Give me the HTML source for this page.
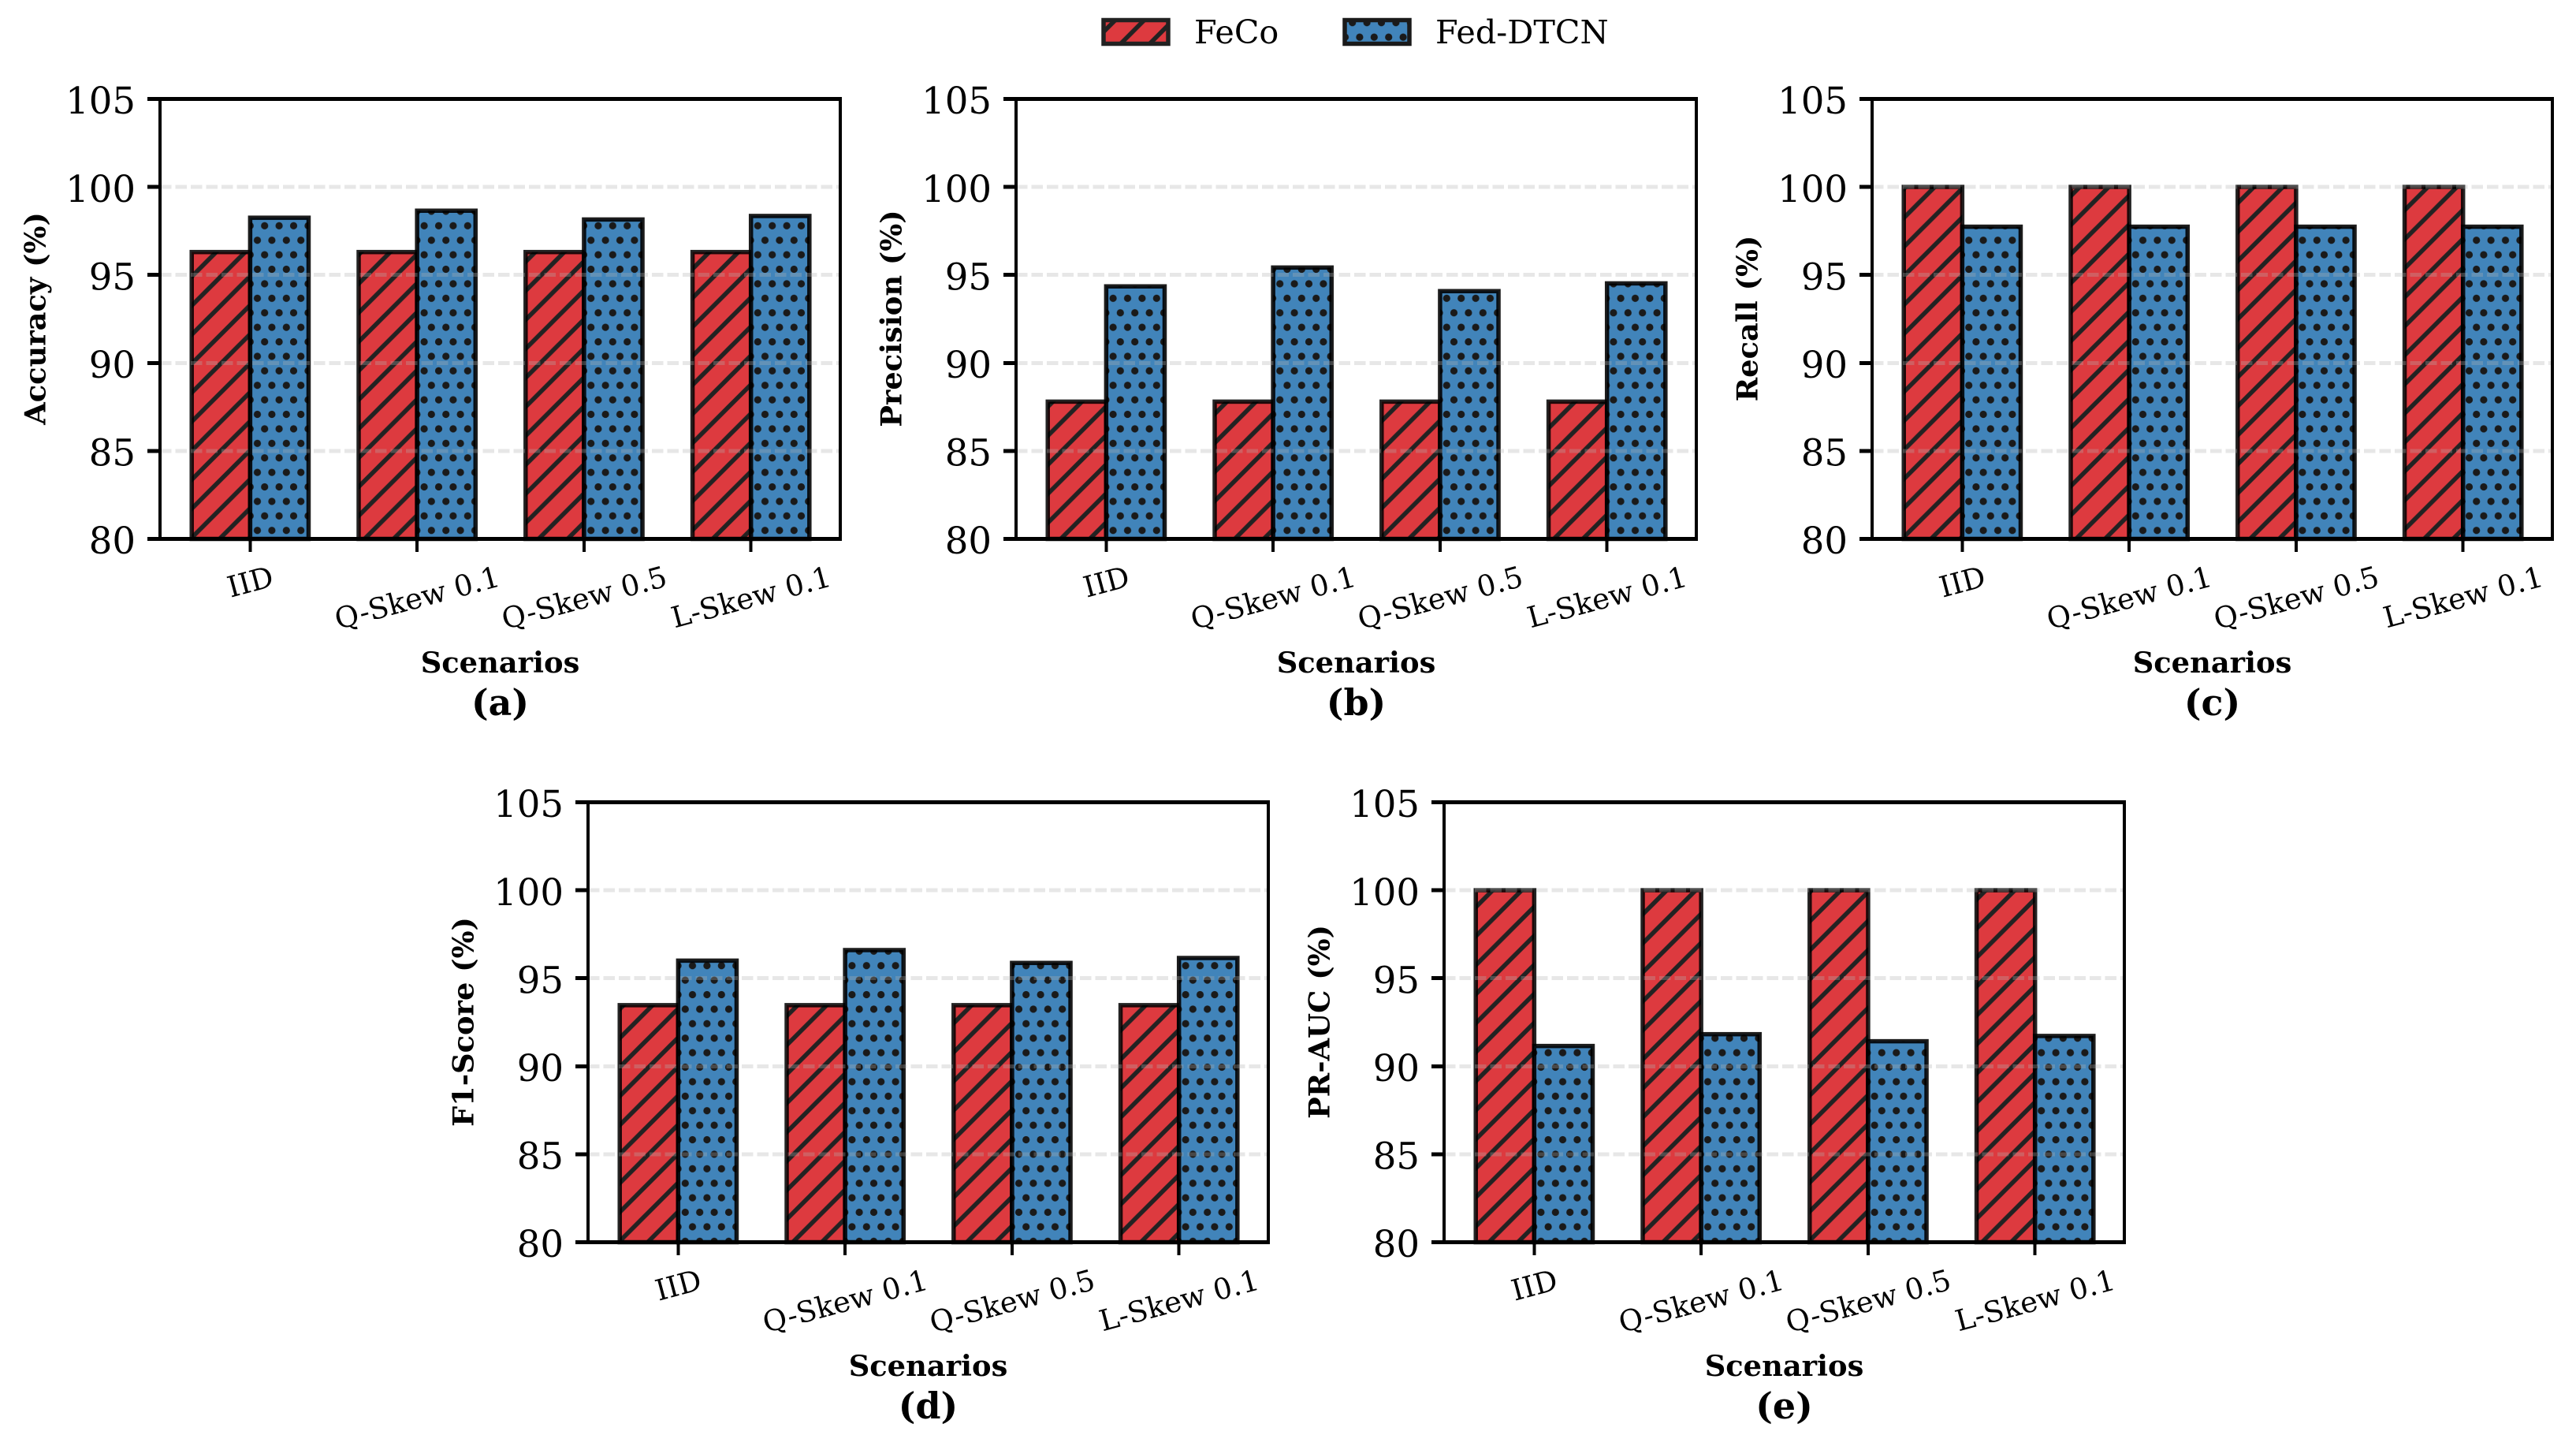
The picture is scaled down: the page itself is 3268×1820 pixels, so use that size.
<!DOCTYPE html>
<html lang="en">
<head>
<meta charset="utf-8">
<title>FeCo vs Fed-DTCN metrics</title>
<style>
html,body{margin:0;padding:0;background:#fff;}
svg{display:block;}
text{font-family:"DejaVu Serif","Liberation Serif",serif;fill:#000;}
</style>
</head>
<body>
<svg id="figure" xmlns="http://www.w3.org/2000/svg" width="3268" height="1820" viewBox="0 0 3268 1820">
  <defs>
    <pattern id="hatch-feco" patternUnits="userSpaceOnUse" x="0" y="5.2" width="36.8" height="36.8">
      <rect x="0" y="0" width="36.8" height="36.8" fill="#dd3a3f"/>
      <path d="M-4 40.8L40.8 -4M-4 4L4 -4M32.8 40.8L40.8 32.8" stroke="#222" stroke-width="5.6" fill="none"/>
    </pattern>
    <pattern id="hatch-dtcn" patternUnits="userSpaceOnUse" x="4.5" y="28.7" width="18.4" height="36.8">
      <rect x="0" y="0" width="18.4" height="36.8" fill="#4184ba"/>
      <circle cx="0" cy="0" r="4.6" fill="#1a1a1a"/>
      <circle cx="18.4" cy="0" r="4.6" fill="#1a1a1a"/>
      <circle cx="0" cy="36.8" r="4.6" fill="#1a1a1a"/>
      <circle cx="18.4" cy="36.8" r="4.6" fill="#1a1a1a"/>
      <circle cx="9.2" cy="18.4" r="4.6" fill="#1a1a1a"/>
    </pattern>
  </defs>
  <rect x="0" y="0" width="3268" height="1820" fill="#fff"/>
  <g>
    <rect x="1400" y="25.5" width="82" height="30" fill="url(#hatch-feco)" stroke="#222" stroke-width="5.5"/>
    <text x="1515" y="55" font-size="41.3">FeCo</text>
    <rect x="1706" y="25.5" width="82" height="30" fill="url(#hatch-dtcn)" stroke="#1a1a1a" stroke-width="5.5"/>
    <text x="1821" y="55" font-size="41.3">Fed-DTCN</text>
  </g>
</svg>
<script>
const categories = ['IID', 'Q-Skew 0.1', 'Q-Skew 0.5', 'L-Skew 0.1'];
const yTicks = [80, 85, 90, 95, 100, 105];
const gridTicks = [85, 90, 95, 100];

const fecoAccuracy = [96.3, 96.3, 96.3, 96.3];
const dtcnAccuracy = [98.25, 98.65, 98.15, 98.35];
const fecoPrecision = [87.8, 87.8, 87.8, 87.8];
const dtcnPrecision = [94.35, 95.42, 94.08, 94.52];
const fecoRecall = [100, 100, 100, 100];
const dtcnRecall = [97.74, 97.74, 97.74, 97.74];
const fecoF1 = [93.47, 93.47, 93.47, 93.47];
const dtcnF1 = [96.0, 96.6, 95.87, 96.15];
const fecoPrAuc = [100, 100, 100, 100];
const dtcnPrAuc = [91.15, 91.82, 91.42, 91.72];

const NS = 'http://www.w3.org/2000/svg';
const figure = document.getElementById('figure');
const AX_W = 863;
const AX_H = 558;
const Y_MIN = 80;
const Y_MAX = 105;
const X_MIN = -0.54;
const X_MAX = 3.535;
const BAR_W = 0.35;

function make(tag, parent, attrs, txt) {
  const el = document.createElementNS(NS, tag);
  for (const k in attrs) el.setAttribute(k, attrs[k]);
  if (txt !== undefined) el.textContent = txt;
  parent.appendChild(el);
  return el;
}

function drawPanel(key, yTitle, caption, feco, dtcn, left, top) {
  const xScale = function (v) { return left + (v - X_MIN) / (X_MAX - X_MIN) * AX_W; };
  const yScale = function (v) { return top + (Y_MAX - v) / (Y_MAX - Y_MIN) * AX_H; };
  const bottom = yScale(Y_MIN);
  const right = left + AX_W;
  const cx = left + AX_W / 2;

  const g = make('g', figure, {});
  
  

  feco.forEach(function (v, i) {
    const bar = make('rect', g, {
      x: xScale(i - BAR_W), y: yScale(v),
      width: xScale(i) - xScale(i - BAR_W), height: bottom - yScale(v),
      fill: 'url(#hatch-feco)', stroke: '#000', 'stroke-opacity': 0.86, 'stroke-width': 5.5
    });
    
    
  });
  dtcn.forEach(function (v, i) {
    const bar = make('rect', g, {
      x: xScale(i), y: yScale(v),
      width: xScale(i + BAR_W) - xScale(i), height: bottom - yScale(v),
      fill: 'url(#hatch-dtcn)', stroke: '#000', 'stroke-opacity': 0.89, 'stroke-width': 5.5
    });
    
    
  });

  gridTicks.forEach(function (t) {
    const grid = make('line', g, {
      x1: left, x2: right, y1: yScale(t), y2: yScale(t),
      stroke: '#b0b0b0', 'stroke-opacity': 0.31, 'stroke-width': 5,
      'stroke-dasharray': '14.5 5', 'shape-rendering': 'crispEdges'
    });
    
    
  });

  yTicks.forEach(function (t) {
    const tick = make('line', g, {
      x1: left - 16, x2: left, y1: yScale(t), y2: yScale(t),
      stroke: '#000', 'stroke-width': 5, 'shape-rendering': 'crispEdges'
    });
    
    
    const label = make('text', g, {
      x: left - 31, y: yScale(t) + 18.7, 'text-anchor': 'end', 'font-size': 46.6
    }, String(t));
    
    
  });

  categories.forEach(function (c, i) {
    const tick = make('line', g, {
      x1: xScale(i), x2: xScale(i), y1: bottom, y2: bottom + 16.5,
      stroke: '#000', 'stroke-width': 4, 'shape-rendering': 'crispEdges'
    });
    
    
    const label = make('text', g, {
      x: 0, y: 13.4, 'text-anchor': 'middle', 'font-size': 36.8
    }, c);
    
    
    const len = label.getComputedTextLength();
    const yc = bottom + 46.3 + len * Math.sin(15 * Math.PI / 180) / 2;
    label.setAttribute('transform', 'translate(' + xScale(i) + ',' + yc + ') rotate(-15)');
  });

  const spineTop = make('line', g, { x1: left - 2, x2: right + 2, y1: top, y2: top, stroke: '#000', 'stroke-width': 5, 'shape-rendering': 'crispEdges' });
  
  
  const spineBottom = make('line', g, { x1: left - 2, x2: right + 2, y1: bottom, y2: bottom, stroke: '#000', 'stroke-width': 5, 'shape-rendering': 'crispEdges' });
  
  
  const spineLeft = make('line', g, { x1: left, x2: left, y1: top, y2: bottom, stroke: '#000', 'stroke-width': 4, 'shape-rendering': 'crispEdges' });
  
  
  const spineRight = make('line', g, { x1: right, x2: right, y1: top, y2: bottom, stroke: '#000', 'stroke-width': 4, 'shape-rendering': 'crispEdges' });
  
  

  const yLabelX = left - 145.5;
  const yLabelY = top + AX_H / 2 - 0.5;
  const yTitleEl = make('text', g, {
    x: yLabelX, y: yLabelY, 'text-anchor': 'middle', 'font-size': 36.8, 'font-weight': 'bold',
    transform: 'rotate(-90 ' + yLabelX + ' ' + yLabelY + ')'
  }, yTitle);
  
  

  const xTitleEl = make('text', g, {
    x: cx, y: bottom + 169.5, 'text-anchor': 'middle', 'font-size': 36.8, 'font-weight': 'bold'
  }, 'Scenarios');
  
  

  const captionEl = make('text', g, {
    x: cx, y: bottom + 223.5, 'text-anchor': 'middle', 'font-size': 45.83, 'font-weight': 'bold'
  }, caption);
  
  
}

drawPanel('accuracy', 'Accuracy (%)', '(a)', fecoAccuracy, dtcnAccuracy, 203, 125.5);
drawPanel('precision', 'Precision (%)', '(b)', fecoPrecision, dtcnPrecision, 1289, 125.5);
drawPanel('recall', 'Recall (%)', '(c)', fecoRecall, dtcnRecall, 2375, 125.5);
drawPanel('f1-score', 'F1-Score (%)', '(d)', fecoF1, dtcnF1, 746, 1017.5);
drawPanel('pr-auc', 'PR-AUC (%)', '(e)', fecoPrAuc, dtcnPrAuc, 1832, 1017.5);
</script>
</body>
</html>
